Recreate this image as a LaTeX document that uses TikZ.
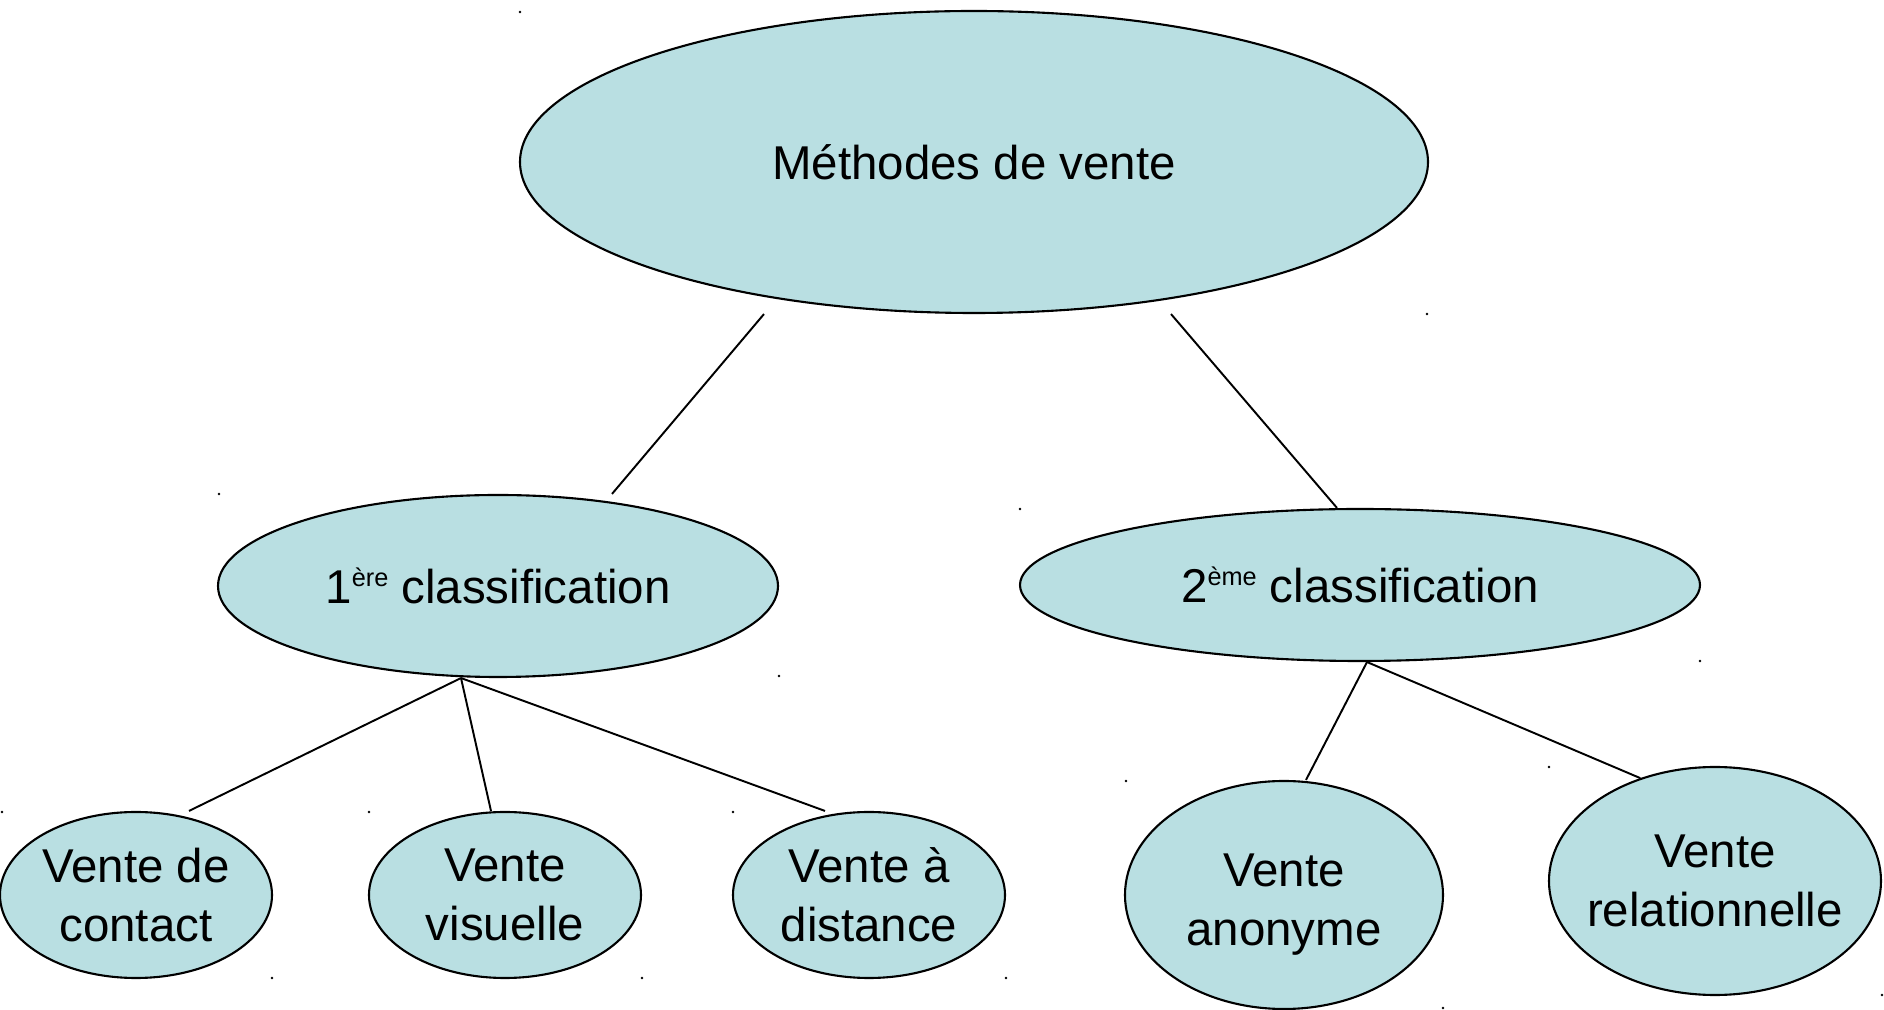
\documentclass[tikz,border=0pt]{standalone}
\usepackage{fontspec}
\setmainfont{Liberation Sans}
\usepackage{xcolor}
\usetikzlibrary{shapes.geometric}
\definecolor{bulle}{HTML}{B9DFE2}
\newcommand{\expo}[1]{\raisebox{4.8pt}{\fontsize{7.2}{9}\selectfont #1}}

\begin{document}
\begin{tikzpicture}[x=1cm,y=1cm,
  font=\fontsize{13.5}{16.8}\selectfont,
  oval/.style={ellipse,draw,fill=bulle,line width=.6pt,inner sep=0pt,
    align=center},
  link/.style={line width=.55pt},
  speck/.style={fill=black}]
\useasboundingbox (0,0) rectangle (18.84,10.10);
\node[oval,minimum width=9.08cm,minimum height=3.02cm] (meth) at (9.74,8.48)
  {Méthodes de vente};
\node[oval,minimum width=5.60cm,minimum height=1.82cm] (cla) at (4.98,4.24)
  {1\expo{ère} classification};
\node[oval,minimum width=6.80cm,minimum height=1.52cm] (clb) at (13.60,4.25)
  {2\expo{ème} classification};
\node[oval,minimum width=2.72cm,minimum height=1.66cm] (contact) at (1.36,1.15)
  {Vente de\\contact};
\node[oval,minimum width=2.72cm,minimum height=1.66cm] (visu) at (5.05,1.15)
  {Vente\\visuelle};
\node[oval,minimum width=2.72cm,minimum height=1.66cm] (dist) at (8.69,1.15)
  {Vente à\\distance};
\node[oval,minimum width=3.18cm,minimum height=2.28cm] (anon) at (12.84,1.15)
  {\rule{0pt}{.51cm}Vente\\anonyme};
\node[oval,inner xsep=-.12cm,minimum width=3.32cm,minimum height=2.28cm]
  (relat) at (17.15,1.29) {Vente\\relationnelle};
\draw[link] ([xshift=-2.10cm]meth.south)--([xshift=1.14cm]cla.north);
\draw[link] ([xshift=1.97cm]meth.south)--([xshift=-.23cm]clb.north);
\draw[link] ([xshift=-.37cm]cla.south)--([xshift=.53cm]contact.north);
\draw[link] ([xshift=-.37cm]cla.south)--([xshift=-.14cm]visu.north);
\draw[link] ([xshift=-.37cm]cla.south)--([xshift=-.44cm]dist.north);
\draw[link] ([xshift=.07cm]clb.south)--([xshift=.22cm]anon.north);
\draw[link] ([xshift=.07cm]clb.south)--(relat.126.4);
\foreach \p in {(5.20,9.98),(14.27,6.96),(2.19,5.16),(7.79,3.34),
  (10.20,5.01),(17.00,3.49),(0.02,1.98),(2.72,0.32),(3.69,1.98),
  (6.42,0.32),(7.33,1.98),(10.06,0.32),(11.26,2.29),(14.43,0.02),
  (15.49,2.43),(18.82,0.15)}
  \fill[speck] \p circle (.4pt);
\end{tikzpicture}
\end{document}
